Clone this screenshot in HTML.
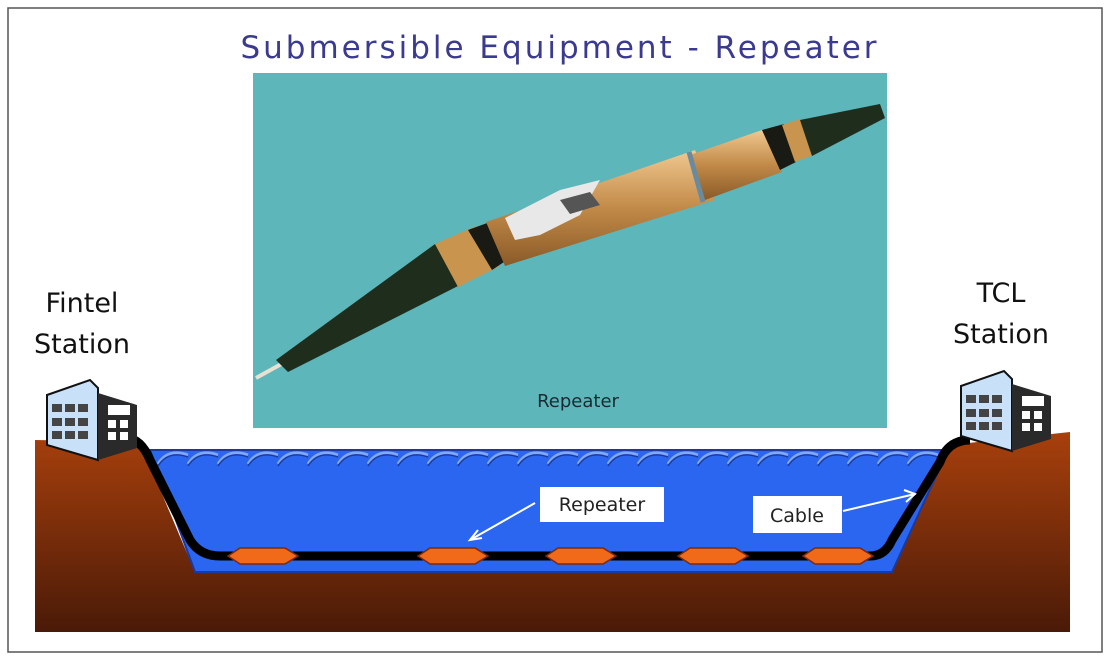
<!DOCTYPE html>
<html><head><meta charset="utf-8"><style>
html,body{margin:0;padding:0;background:#fff;}
svg{display:block;}
</style></head><body>
<svg width="1115" height="658" viewBox="0 0 1115 658" xmlns="http://www.w3.org/2000/svg">
<defs>
<linearGradient id="earth" x1="0" y1="0" x2="0" y2="1">
<stop offset="0" stop-color="#a8400c"/><stop offset="1" stop-color="#4a1a08"/>
</linearGradient>
<linearGradient id="gold" x1="0" y1="0" x2="0" y2="1">
<stop offset="0" stop-color="#f0c890"/><stop offset="0.5" stop-color="#c28a48"/><stop offset="1" stop-color="#8a5a28"/>
</linearGradient>
</defs>
<rect x="8" y="8" width="1094" height="644" fill="#fff" stroke="#555" stroke-width="1.5"/>
<text x="560" y="58" text-anchor="middle" font-family="DejaVu Sans, sans-serif" font-size="31" letter-spacing="3" fill="#3a3a90">Submersible Equipment - Repeater</text>
<!-- photo -->
<rect x="253" y="73" width="634" height="355" fill="#5cb6ba"/>
<g>
<line x1="256" y1="378" x2="285" y2="362" stroke="#e8e0d0" stroke-width="4"/>
<polygon points="276,360 435,244 458,286 288,372" fill="#1f2e1c"/>
<polygon points="435,244 476,226 500,266 458,287" fill="#c8944e"/>
<polygon points="468,230 490,222 510,258 492,270" fill="#1a1a14"/>
<polygon points="486,222 695,150 715,200 505,266" fill="url(#gold)"/>
<polygon points="505,218 560,190 600,180 580,215 540,235 515,240" fill="#e8e8e8"/>
<polygon points="560,200 590,192 600,205 570,214" fill="#555"/>
<polygon points="690,155 762,130 782,172 705,200" fill="url(#gold)"/>
<line x1="689" y1="152" x2="703" y2="202" stroke="#6a8aa0" stroke-width="5"/>
<polygon points="762,130 784,124 796,162 780,170" fill="#1a1a14"/>
<polygon points="782,125 800,119 814,155 795,162" fill="#c8944e"/>
<polygon points="800,120 880,104 885,118 812,156" fill="#1f2e1c"/>
</g>
<text x="578" y="407" text-anchor="middle" font-family="DejaVu Sans, sans-serif" font-size="18" fill="#1a2a30">Repeater</text>
<!-- ground -->
<polygon points="35,440 140,442 195,572 892,572 950,445 1070,432 1070,632 35,632" fill="url(#earth)"/>
<!-- water -->
<polygon points="150,450 948,450 892,572 195,572" fill="#2b66f0" stroke="#1a3aa0" stroke-width="2"/>
<g fill="none" stroke="#7fa8ff" stroke-width="3">
<path d="M158,464 q10,-16 30,-9 M188,464 q10,-16 30,-9 M218,464 q10,-16 30,-9 M248,464 q10,-16 30,-9 M278,464 q10,-16 30,-9 M308,464 q10,-16 30,-9 M338,464 q10,-16 30,-9 M368,464 q10,-16 30,-9 M398,464 q10,-16 30,-9 M428,464 q10,-16 30,-9 M458,464 q10,-16 30,-9 M488,464 q10,-16 30,-9 M518,464 q10,-16 30,-9 M548,464 q10,-16 30,-9 M578,464 q10,-16 30,-9 M608,464 q10,-16 30,-9 M638,464 q10,-16 30,-9 M668,464 q10,-16 30,-9 M698,464 q10,-16 30,-9 M728,464 q10,-16 30,-9 M758,464 q10,-16 30,-9 M788,464 q10,-16 30,-9 M818,464 q10,-16 30,-9 M848,464 q10,-16 30,-9 M878,464 q10,-16 30,-9 M908,464 q10,-16 30,-9"/>
</g>
<g fill="none" stroke="#1c3c9a" stroke-width="1.5">
<path d="M158,466 q10,-16 30,-9 M188,466 q10,-16 30,-9 M218,466 q10,-16 30,-9 M248,466 q10,-16 30,-9 M278,466 q10,-16 30,-9 M308,466 q10,-16 30,-9 M338,466 q10,-16 30,-9 M368,466 q10,-16 30,-9 M398,466 q10,-16 30,-9 M428,466 q10,-16 30,-9 M458,466 q10,-16 30,-9 M488,466 q10,-16 30,-9 M518,466 q10,-16 30,-9 M548,466 q10,-16 30,-9 M578,466 q10,-16 30,-9 M608,466 q10,-16 30,-9 M638,466 q10,-16 30,-9 M668,466 q10,-16 30,-9 M698,466 q10,-16 30,-9 M728,466 q10,-16 30,-9 M758,466 q10,-16 30,-9 M788,466 q10,-16 30,-9 M818,466 q10,-16 30,-9 M848,466 q10,-16 30,-9 M878,466 q10,-16 30,-9 M908,466 q10,-16 30,-9"/>
</g>
<!-- cable -->
<path d="M122,438 Q140,436 150,460 L190,540 Q200,556 220,556 L870,556 Q885,556 892,540 L940,462 Q948,440 970,440" fill="none" stroke="#000" stroke-width="9"/>
<g fill="#f06a1a" stroke="#7a2a10" stroke-width="1.5">
<polygon points="228,556 240,548 285,548 298,556 285,564 240,564"/>
<polygon points="418,556 430,548 475,548 488,556 475,564 430,564"/>
<polygon points="546,556 558,548 603,548 616,556 603,564 558,564"/>
<polygon points="678,556 690,548 735,548 748,556 735,564 690,564"/>
<polygon points="803,556 815,548 860,548 873,556 860,564 815,564"/>
</g>
<!-- labels -->
<rect x="540" y="487" width="124" height="35" fill="#fff"/>
<text x="602" y="511" text-anchor="middle" font-family="DejaVu Sans, sans-serif" font-size="19" fill="#222">Repeater</text>
<line x1="535" y1="503" x2="470" y2="540" stroke="#fff" stroke-width="2"/>
<polyline points="478,530 470,540 482,538" fill="none" stroke="#fff" stroke-width="2"/>
<rect x="753" y="496" width="89" height="37" fill="#fff"/>
<text x="797" y="522" text-anchor="middle" font-family="DejaVu Sans, sans-serif" font-size="19" fill="#222">Cable</text>
<line x1="843" y1="511" x2="915" y2="494" stroke="#fff" stroke-width="2"/>
<polyline points="904,490 915,494 906,502" fill="none" stroke="#fff" stroke-width="2"/>
<!-- stations text -->
<text x="82" y="312" text-anchor="middle" font-family="DejaVu Sans, sans-serif" font-size="27" fill="#111">Fintel</text>
<text x="82" y="353" text-anchor="middle" font-family="DejaVu Sans, sans-serif" font-size="27" fill="#111">Station</text>
<text x="1001" y="302" text-anchor="middle" font-family="DejaVu Sans, sans-serif" font-size="27" fill="#111">TCL</text>
<text x="1001" y="343" text-anchor="middle" font-family="DejaVu Sans, sans-serif" font-size="27" fill="#111">Station</text>
<!-- buildings -->
<g>
<polygon points="47,395 90,380 98,388 98,460 47,445" fill="#c8e0f8" stroke="#111" stroke-width="2"/>
<polygon points="98,393 137,405 137,448 98,460" fill="#2a2a2a"/>
<g fill="#444"><rect x="52" y="404" width="10" height="8"/><rect x="65" y="404" width="10" height="8"/><rect x="78" y="404" width="10" height="8"/>
<rect x="52" y="418" width="10" height="8"/><rect x="65" y="418" width="10" height="8"/><rect x="78" y="418" width="10" height="8"/>
<rect x="52" y="431" width="10" height="8"/><rect x="65" y="431" width="10" height="8"/><rect x="78" y="431" width="10" height="8"/></g>
<g fill="#fff"><rect x="108" y="405" width="22" height="10"/><rect x="108" y="420" width="8" height="8"/><rect x="120" y="420" width="8" height="8"/><rect x="108" y="432" width="8" height="8"/><rect x="120" y="432" width="8" height="8"/></g>
</g>
<g transform="translate(914,-9)">
<polygon points="47,395 90,380 98,388 98,460 47,445" fill="#c8e0f8" stroke="#111" stroke-width="2"/>
<polygon points="98,393 137,405 137,448 98,460" fill="#2a2a2a"/>
<g fill="#444"><rect x="52" y="404" width="10" height="8"/><rect x="65" y="404" width="10" height="8"/><rect x="78" y="404" width="10" height="8"/>
<rect x="52" y="418" width="10" height="8"/><rect x="65" y="418" width="10" height="8"/><rect x="78" y="418" width="10" height="8"/>
<rect x="52" y="431" width="10" height="8"/><rect x="65" y="431" width="10" height="8"/><rect x="78" y="431" width="10" height="8"/></g>
<g fill="#fff"><rect x="108" y="405" width="22" height="10"/><rect x="108" y="420" width="8" height="8"/><rect x="120" y="420" width="8" height="8"/><rect x="108" y="432" width="8" height="8"/><rect x="120" y="432" width="8" height="8"/></g>
</g>
</svg>
</body></html>
